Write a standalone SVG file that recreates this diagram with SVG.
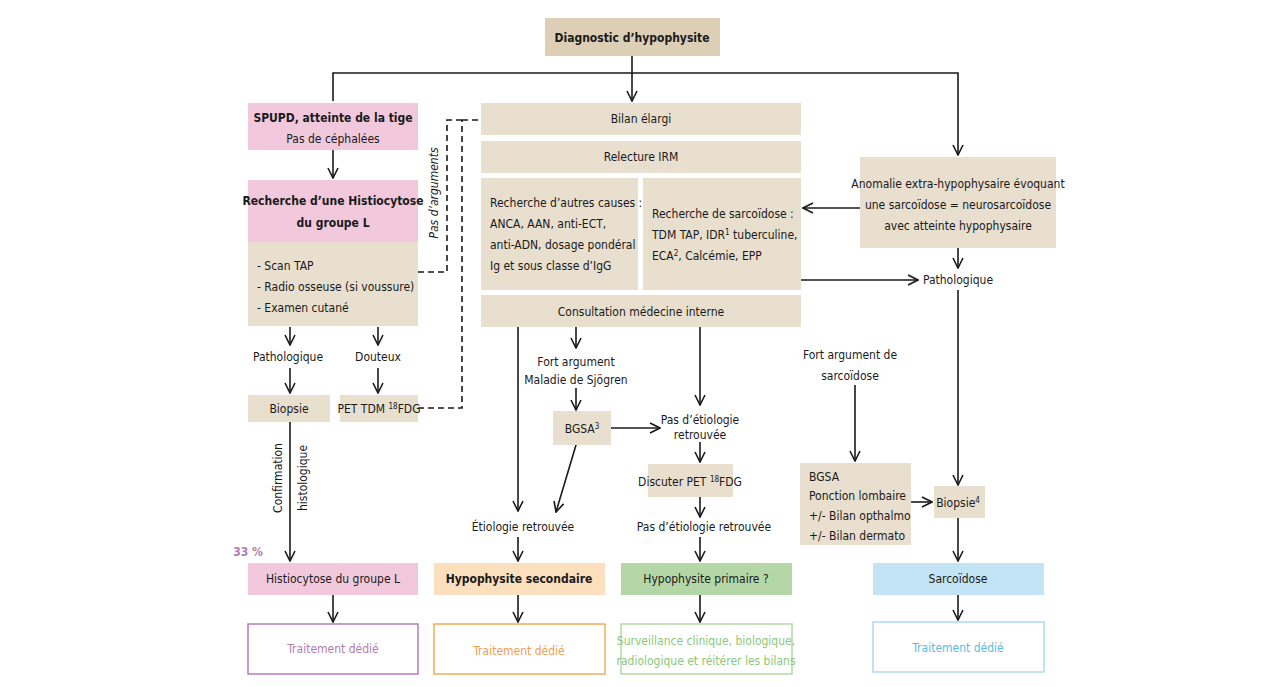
<svg xmlns="http://www.w3.org/2000/svg" width="1285" height="687" viewBox="0 0 1285 687">
<defs>
<marker id="ar" viewBox="0 0 12 12" refX="11" refY="6" markerWidth="12" markerHeight="12" markerUnits="userSpaceOnUse" orient="auto"><path d="M1,1 L11,6 L1,11" fill="none" stroke="#1a1a1a" stroke-width="1.6"/></marker>
<style>
text{font-family:"DejaVu Sans Condensed","Liberation Sans",sans-serif;font-size:12px;fill:#1a1a1a;text-anchor:middle}
.b{font-weight:bold}
.l{text-anchor:start}
.bg{fill:#e8dfcf}
.pk{fill:#f2c9dc}
.c line,.c path,.c polyline{stroke:#1a1a1a;stroke-width:1.6;fill:none}
.c .a{marker-end:url(#ar)}
.d{stroke-dasharray:6 4}
</style>
</defs>
<rect width="1285" height="687" fill="#fff"/>
<g class="c">
<line x1="632" y1="56" x2="632" y2="101" class="a"/>
<polyline points="333,101 333,73 958,73 958,155" class="a"/>
<line x1="333" y1="150" x2="333" y2="178" class="a"/>
<line x1="290" y1="327" x2="290" y2="345" class="a"/>
<line x1="378" y1="327" x2="378" y2="345" class="a"/>
<line x1="290" y1="368" x2="290" y2="393" class="a"/>
<line x1="378" y1="368" x2="378" y2="393" class="a"/>
<line x1="290" y1="422" x2="290" y2="561" class="a"/>
<line x1="333" y1="595" x2="333" y2="622" class="a"/>
<polyline points="418,272 447,272 447,120 462,120" class="d"/>
<polyline points="462,120 478,120" class="d"/>
<polyline points="418,408 462,408 462,120" class="d"/>
<line x1="860" y1="208" x2="803" y2="208" class="a"/>
<line x1="801" y1="280" x2="918" y2="280" class="a"/>
<line x1="958" y1="248" x2="958" y2="268" class="a"/>
<line x1="958" y1="290" x2="958" y2="485" class="a"/>
<line x1="518" y1="327" x2="518" y2="511" class="a"/>
<line x1="576" y1="327" x2="576" y2="348" class="a"/>
<line x1="576" y1="388" x2="576" y2="410" class="a"/>
<line x1="611" y1="428" x2="660" y2="428" class="a"/>
<line x1="700" y1="327" x2="700" y2="405" class="a"/>
<line x1="700" y1="442" x2="700" y2="462" class="a"/>
<line x1="700" y1="497" x2="700" y2="517" class="a"/>
<line x1="576" y1="445" x2="556" y2="512" class="a"/>
<line x1="518" y1="537" x2="518" y2="561" class="a"/>
<line x1="518" y1="595" x2="518" y2="622" class="a"/>
<line x1="700" y1="537" x2="700" y2="561" class="a"/>
<line x1="700" y1="595" x2="700" y2="622" class="a"/>
<line x1="855" y1="385" x2="855" y2="461" class="a"/>
<line x1="911" y1="502" x2="932" y2="502" class="a"/>
<line x1="958" y1="518" x2="958" y2="561" class="a"/>
<line x1="958" y1="595" x2="958" y2="620" class="a"/>
</g>
<g id="title"><rect x="545" y="18" width="175" height="38" fill="#dccfb5"/><text x="632" y="42" class="b" font-size="13">Diagnostic d’hypophysite</text></g>
<g id="spupd"><rect x="248" y="103" width="170" height="47" class="pk"/><text x="333" y="122" class="b">SPUPD, atteinte de la tige</text><text x="333" y="143">Pas de céphalées</text></g>
<g id="histio"><rect x="248" y="180" width="170" height="62" class="pk"/><text x="333" y="205" class="b">Recherche d’une Histiocytose</text><text x="333" y="227" class="b">du groupe L</text>
<rect x="248" y="242" width="170" height="84" class="bg"/><text x="257" y="270" class="l">- Scan TAP</text><text x="257" y="291" class="l">- Radio osseuse (si voussure)</text><text x="257" y="312" class="l">- Examen cutané</text></g>
<text x="288" y="361">Pathologique</text><text x="378" y="361">Douteux</text>
<g id="biopsie"><rect x="248" y="395" width="82" height="27" class="bg"/><text x="289" y="413">Biopsie</text></g>
<g id="pet"><rect x="340" y="395" width="78" height="27" class="bg"/><text x="379" y="413">PET TDM <tspan font-size="8" dy="-4">18</tspan><tspan dy="4">FDG</tspan></text></g>
<text transform="translate(282,478) rotate(-90)">Confirmation</text>
<text transform="translate(307,478) rotate(-90)">histologique</text>
<text transform="translate(438,193) rotate(-90)" font-style="italic">Pas d’arguments</text>
<text x="248" y="556" class="b" font-size="17" style="fill:#b07db3">33 %</text>
<g id="hlg"><rect x="248" y="563" width="170" height="32" class="pk"/><text x="333" y="583">Histiocytose du groupe L</text></g>
<g id="t1"><rect x="248" y="624" width="170" height="50" fill="none" stroke="#b07db3" stroke-width="1.5"/><text x="333" y="653" style="fill:#b07db3">Traitement dédié</text></g>
<g id="bilan"><rect x="481" y="103" width="320" height="32" class="bg"/><text x="641" y="123">Bilan élargi</text></g>
<g id="irm"><rect x="481" y="141" width="320" height="32" class="bg"/><text x="641" y="161">Relecture IRM</text></g>
<g id="autres"><rect x="481" y="178" width="157" height="112" class="bg"/><text x="490" y="207" class="l">Recherche d’autres causes :</text><text x="490" y="228" class="l">ANCA, AAN, anti-ECT,</text><text x="490" y="249" class="l">anti-ADN, dosage pondéral</text><text x="490" y="270" class="l">Ig et sous classe d’IgG</text></g>
<g id="sarco"><rect x="643" y="178" width="158" height="112" class="bg"/><text x="652" y="218" class="l">Recherche de sarcoïdose :</text><text x="652" y="239" class="l">TDM TAP, IDR<tspan font-size="8" dy="-4">1</tspan><tspan dy="4"> tuberculine,</tspan></text><text x="652" y="260" class="l">ECA<tspan font-size="8" dy="-4">2</tspan><tspan dy="4">, Calcémie, EPP</tspan></text></g>
<g id="consult"><rect x="481" y="295" width="320" height="32" class="bg"/><text x="641" y="316">Consultation médecine interne</text></g>
<g id="anom"><rect x="860" y="157" width="196" height="91" class="bg"/><text x="958" y="188">Anomalie extra-hypophysaire évoquant</text><text x="958" y="209">une sarcoïdose = neurosarcoïdose</text><text x="958" y="230">avec atteinte hypophysaire</text></g>
<text x="958" y="284">Pathologique</text>
<text x="576" y="366">Fort argument</text><text x="576" y="384">Maladie de Sjögren</text>
<g id="bgsa3"><rect x="553" y="411" width="58" height="34" class="bg"/><text x="582" y="433">BGSA<tspan font-size="8" dy="-4">3</tspan></text></g>
<text x="700" y="424">Pas d’étiologie</text><text x="700" y="439">retrouvée</text>
<g id="discuter"><rect x="648" y="464" width="85" height="33" class="bg"/><text x="690" y="486">Discuter PET <tspan font-size="8" dy="-4">18</tspan><tspan dy="4">FDG</tspan></text></g>
<text x="523" y="531">Étiologie retrouvée</text>
<text x="704" y="531">Pas d’étiologie retrouvée</text>
<text x="850" y="359">Fort argument de</text><text x="850" y="380">sarcoïdose</text>
<g id="bgsa"><rect x="800" y="463" width="111" height="82" class="bg"/><text x="809" y="481" class="l">BGSA</text><text x="809" y="500" class="l">Ponction lombaire</text><text x="809" y="520" class="l">+/- Bilan opthalmo</text><text x="809" y="540" class="l">+/- Bilan dermato</text></g>
<g id="biopsie4"><rect x="934" y="486" width="51" height="32" class="bg"/><text x="958" y="507">Biopsie<tspan font-size="8" dy="-4">4</tspan></text></g>
<g id="sec"><rect x="434" y="563" width="171" height="32" fill="#fce0be"/><text x="519" y="583" class="b">Hypophysite secondaire</text></g>
<g id="t2"><rect x="434" y="624" width="171" height="50" fill="none" stroke="#f4ac55" stroke-width="1.5"/><text x="519" y="655" style="fill:#f0a04a">Traitement dédié</text></g>
<g id="prim"><rect x="621" y="563" width="171" height="32" fill="#b5d7a8"/><text x="706" y="583">Hypophysite primaire ?</text></g>
<g id="t3"><rect x="621" y="624" width="171" height="50" fill="none" stroke="#b5d7a8" stroke-width="1.5"/><text x="706" y="645" style="fill:#8cc87a">Surveillance clinique, biologique,</text><text x="706" y="665" style="fill:#8cc87a">radiologique et réitérer les bilans</text></g>
<g id="sarc"><rect x="873" y="563" width="171" height="32" fill="#c3e4f5"/><text x="958" y="583">Sarcoïdose</text></g>
<g id="t4"><rect x="873" y="622" width="171" height="50" fill="none" stroke="#a9dcf3" stroke-width="1.5"/><text x="958" y="652" style="fill:#5bbbe6">Traitement dédié</text></g>
</svg>
